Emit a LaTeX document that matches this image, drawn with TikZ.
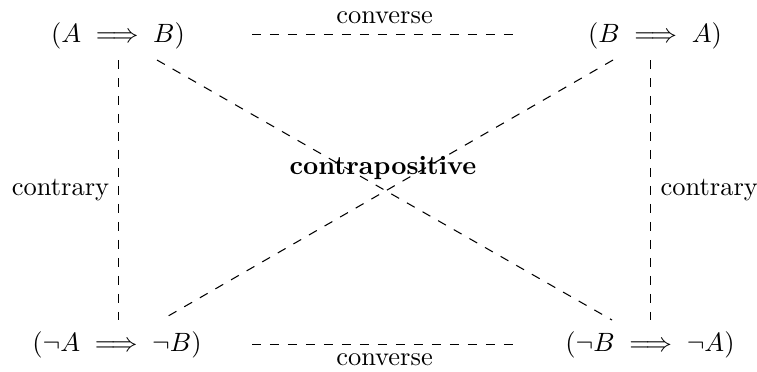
\documentclass[tikz,border=0pt]{standalone}
\usepackage{amsmath,amssymb}
\begin{document}
\begin{tikzpicture}[x=0.378pt,y=-0.378pt,
  conn/.style={dash pattern=on 3.4pt off 3.4pt},
  stmt/.style={inner sep=0pt}]
\useasboundingbox (0,0) rectangle (757,371);
\node[stmt] (ab) at (118,36) {$(A \implies B)$};
\node[stmt] (ba) at (655,36) {$(B \implies A)$};
\node[stmt] (nanb) at (117,345) {$(\neg A \implies \neg B)$};
\node[stmt] (nbna) at (650,345) {$(\neg B \implies \neg A)$};
\node (cp) at (383,168) {\textbf{contrapositive}};
% endpoints
\coordinate (t1) at (252,34.5); \coordinate (t2) at (517,34.5);
\coordinate (b1) at (252,344.5); \coordinate (b2) at (517,344.5);
\coordinate (l1) at (118.5,60); \coordinate (l2) at (118.5,320);
\coordinate (r1) at (650.5,60); \coordinate (r2) at (650.5,320);
\coordinate (d1) at (157,60); \coordinate (d2) at (612,320);
\coordinate (e1) at (613,60); \coordinate (e2) at (163,319);
\draw[conn] (t1) -- node[above=0.5pt] {converse} (t2);
\draw[conn] (b1) -- node[below=0pt] {converse} (b2);
\draw[conn] (l1) -- node[left=0pt] {contrary} (l2);
\draw[conn] (r1) -- node[right=0.3pt] {contrary} (r2);
\draw[conn] (d1) -- (d2);
\draw[conn] (e1) -- (e2);
\end{tikzpicture}
\end{document}
